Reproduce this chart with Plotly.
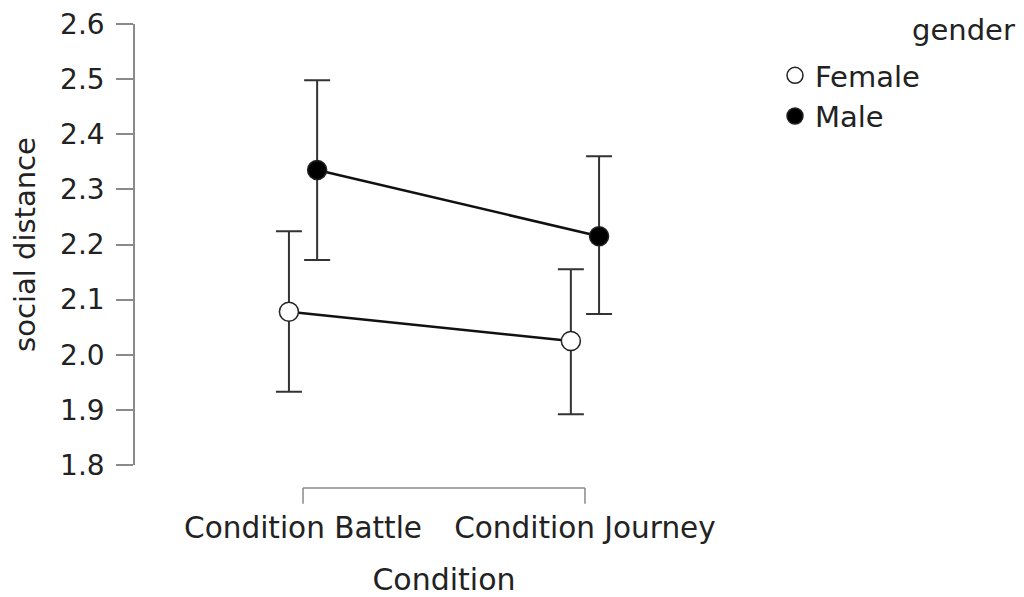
import plotly.graph_objects as go

conditions = ["Condition Battle", "Condition Journey"]
genders = ["Female", "Male"]
female_mean = [2.078, 2.025]
female_lower = [1.933, 1.892]
female_upper = [2.224, 2.155]
male_mean = [2.335, 2.215]
male_lower = [2.172, 2.074]
male_upper = [2.498, 2.360]
y_ticks = [1.8, 1.9, 2.0, 2.1, 2.2, 2.3, 2.4, 2.5, 2.6]

FONT = "DejaVu Sans"
GRAY = "#8a8a8a"
DODGE = 0.05

# plot area (figure px; page has 8px body margin)
L, T, W, H = 127, 16, 618, 441
FIG_W, FIG_H = 1016, 589

series = [
    ("Female", female_mean, female_lower, female_upper, -DODGE, "white"),
    ("Male", male_mean, male_lower, male_upper, DODGE, "black"),
]

fig = go.Figure()
for name, m, lo, hi, off, fill in series:
    xs = [i + off for i in range(len(conditions))]
    fig.add_trace(go.Scatter(x=xs, y=m, mode="lines", line=dict(color="#111", width=2.5),
                             showlegend=False, hoverinfo="skip"))
for name, m, lo, hi, off, fill in series:
    xs = [i + off for i in range(len(conditions))]
    fig.add_trace(go.Scatter(
        x=xs, y=m, mode="markers", name=name,
        marker=dict(size=19, color=fill, line=dict(color="#222", width=1.5)),
        error_y=dict(type="data", symmetric=False,
                     array=[h - v for h, v in zip(hi, m)],
                     arrayminus=[v - l for v, l in zip(m, lo)],
                     color="#333", thickness=2, width=13),
    ))

line_style = dict(color=GRAY, width=1.5)
fig.add_shape(type="line", xref="x", yref="paper", x0=0, x1=len(conditions) - 1,
              y0=-0.052, y1=-0.052, line=line_style)
for i in [0, len(conditions) - 1]:
    fig.add_shape(type="line", xref="x", yref="paper", x0=i, x1=i,
                  y0=-0.052, y1=-0.088, line=line_style)

fig.add_annotation(text="gender", xref="paper", yref="paper",
                   x=(1017 - 8 - L) / W, y=(T + H - (30 - 8)) / H,
                   xanchor="right", yanchor="middle", showarrow=False,
                   font=dict(family=FONT, size=29, color="#222"))

fig.update_layout(
    width=FIG_W, height=FIG_H,
    margin=dict(l=L, r=FIG_W - L - W, t=T, b=FIG_H - T - H, autoexpand=False),
    plot_bgcolor="white", paper_bgcolor="white",
    font=dict(family=FONT, size=29, color="#222"),
    showlegend=True,
    legend=dict(x=(775 - 8 - L) / W, y=(T + H - (50 - 8)) / H, xanchor="left", yanchor="top",
                font=dict(size=29), itemsizing="trace", tracegroupgap=0,
                bgcolor="rgba(0,0,0,0)"),
    xaxis=dict(range=[-0.596, 1.596], tickvals=list(range(len(conditions))), ticktext=conditions,
               showline=False, ticks="", showgrid=False, zeroline=False,
               ticklabelstandoff=42, tickfont=dict(size=29.5), ticklabeloverflow="allow",
               title=dict(text="Condition", standoff=29, font=dict(size=30))),
    yaxis=dict(range=[1.8, 2.6], tickvals=y_ticks, ticktext=[f"{v:.1f}" for v in y_ticks],
               showline=True, linecolor=GRAY, linewidth=1.5,
               ticks="outside", ticklen=17, tickcolor=GRAY, tickwidth=1.5,
               ticklabelstandoff=6, showgrid=False, zeroline=False, tickfont=dict(size=28),
               ticklabeloverflow="allow",
               title=dict(text="social distance", standoff=26, font=dict(size=29))),
)

fig.write_html("out.html")
